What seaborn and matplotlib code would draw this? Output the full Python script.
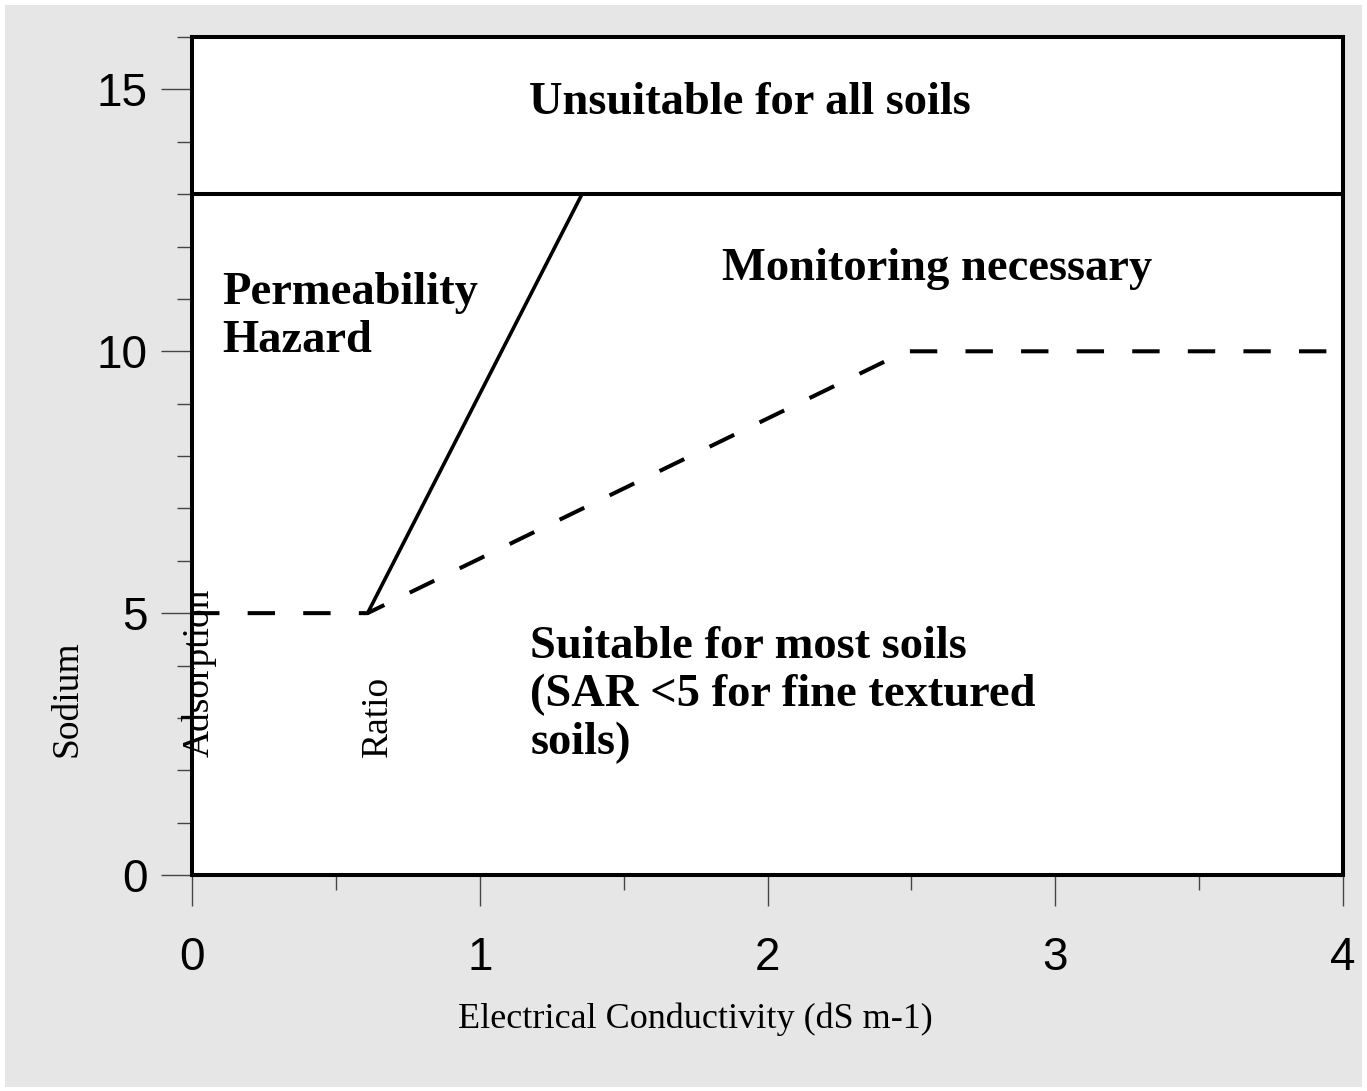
import numpy as np
import pandas as pd
import matplotlib
matplotlib.use("Agg")
import matplotlib.pyplot as plt
import seaborn as sns
from matplotlib.patches import Rectangle
from matplotlib.ticker import MultipleLocator

# boundary lines of the SAR / EC diagram
hazard_ec = [0.61, 1.355]
hazard_sar = [5, 13]
monitor_ec = [0, 0.61, 2.48, 4]
monitor_sar = [5, 5, 10, 10]
unsuitable_sar = 13

x_ticks = [0, 1, 2, 3, 4]
y_ticks = [0, 5, 10, 15]

sns.set_theme(style="white")
plt.rcParams['font.family'] = ['Liberation Sans', 'DejaVu Sans']

fig = plt.figure(figsize=(13.67, 10.91), dpi=100, facecolor='white')
fig.patches.append(Rectangle((0.004, 0.004), 0.992, 0.991, transform=fig.transFigure,
                             facecolor='#e6e6e6', edgecolor='none', zorder=-10))
ax = fig.add_axes([0.1405, 0.198, 0.842, 0.768])
ax.set_facecolor('white')

hazard = pd.DataFrame({'ec': hazard_ec, 'sar': hazard_sar})
monitor = pd.DataFrame({'ec': monitor_ec, 'sar': monitor_sar})

sns.lineplot(data=hazard, x='ec', y='sar', ax=ax, color='black', lw=2.6, sort=False)
sns.lineplot(data=monitor, x='ec', y='sar', ax=ax, color='black', lw=2.9, sort=False,
             linestyle=(0, (6.8, 7)))
ax.axhline(unsuitable_sar, color='black', lw=2.9)

ax.set_xlim(0, 4)
ax.set_ylim(0, 16)
ax.set_xticks(x_ticks)
ax.set_yticks(y_ticks)
ax.xaxis.set_minor_locator(MultipleLocator(0.5))
ax.yaxis.set_minor_locator(MultipleLocator(1))
ax.tick_params(which='major', length=22, width=1, color='#444444', labelsize=33,
               labelcolor='black', direction='out')
ax.tick_params(which='minor', length=11, width=1, color='#444444', direction='out')
ax.tick_params(axis='x', which='major', pad=22)
ax.tick_params(axis='y', which='major', pad=10)
ax.tick_params(bottom=True, left=True, which='both')
for s in ax.spines.values():
    s.set_color('black')
    s.set_linewidth(2.9)
ax.set_xlabel('')
ax.set_ylabel('')

serif = ['Liberation Serif', 'DejaVu Serif']
bold = dict(family=serif, fontsize=33.5, fontweight='bold', color='black')
ax.text(1.94, 14.74, 'Unsuitable for all soils', ha='center', va='center', **bold)
ax.text(0.104, 9.8, 'Permeability\nHazard', ha='left', va='bottom', linespacing=1.18, **bold)
ax.text(1.84, 11.58, 'Monitoring necessary', ha='left', va='center', **bold)
ax.text(1.175, 3.43, 'Suitable for most soils\n(SAR <5 for fine textured\nsoils)',
        ha='left', va='center', linespacing=1.18, **bold)

fig.text(0.5084, 0.0655, 'Electrical Conductivity (dS m-1)', ha='center', va='center',
         family=serif, fontsize=26, color='black')
fig.text(0.049, 0.306, 'Sodium', rotation=90, ha='center', va='bottom',
         family=serif, fontsize=27, color='black')
fig.text(0.1456, 0.306, 'Adsorption', rotation=90, ha='center', va='bottom',
         family=serif, fontsize=27, color='black')
fig.text(0.2765, 0.306, 'Ratio', rotation=90, ha='center', va='bottom',
         family=serif, fontsize=27, color='black')

fig.savefig('out.png', dpi=100, facecolor='white')
